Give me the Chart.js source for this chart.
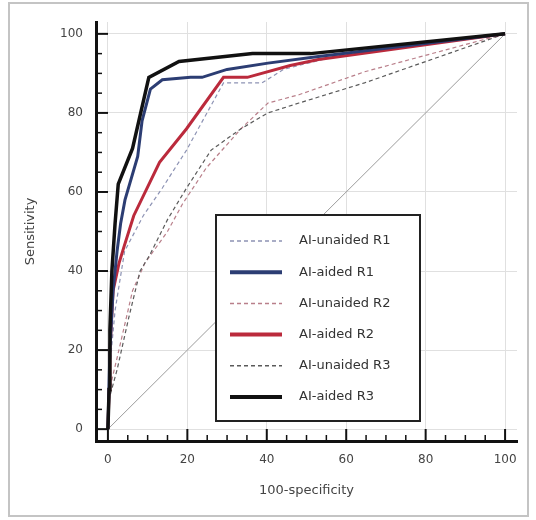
<!DOCTYPE html>
<html>
<head>
<meta charset="utf-8">
<script src="https://cdn.jsdelivr.net/npm/chart.js@4"></script>
<style>
  html, body { margin: 0; padding: 0; background: #fff; }
  canvas { display: block; }
</style>
</head>
<body>
<canvas id="roc" width="536" height="520"></canvas>
<script>
// tick values
const xTicks = [0, 20, 40, 60, 80, 100];
const yTicks = [0, 20, 40, 60, 80, 100];

// ROC curves, x = 100-specificity, y = sensitivity
const unaidedR1X = [0, 0.4, 1.8, 4.2, 8.9, 13.7, 19.8, 29.1, 38.8, 44.2, 57.8, 100];
const unaidedR1Y = [0, 15, 30, 45, 54, 61, 70.6, 87.6, 87.6, 91, 94.5, 100];

const aidedR1X = [0, 0.5, 1.3, 2.3, 3.2, 4.3, 7.5, 8.6, 10.7, 13.7, 20.8, 23.7, 30, 40.3, 53, 100];
const aidedR1Y = [0, 20, 35, 45, 52, 58, 69, 78, 86, 88.4, 89, 89, 91, 92.6, 94.3, 100];

const unaidedR2X = [0, 0.4, 2.3, 6.2, 9.3, 15, 18.8, 24.7, 33.5, 40.3, 48.1, 64.6, 100];
const unaidedR2Y = [0, 10, 18, 35, 42, 50, 57, 66, 76, 82.5, 84.6, 90.4, 100];

const aidedR2X = [0, 0.3, 0.5, 1.3, 2.8, 4, 6.5, 13, 19.8, 29.1, 35.1, 45.9, 53, 100];
const aidedR2Y = [0, 10, 20, 35, 42, 46, 54, 67.5, 76, 89, 89, 92, 93.5, 100];

const unaidedR3X = [0, 0.4, 2.3, 5.2, 8.1, 10.5, 15, 19.8, 26, 33.5, 40.3, 48.1, 64.6, 100];
const unaidedR3Y = [0, 8, 15, 28, 40, 44, 53, 61, 70.6, 76, 80, 82.5, 87.6, 100];

const aidedR3X = [0, 0.3, 0.5, 1, 1.8, 2.6, 6.2, 10.3, 17.9, 36.4, 51, 100];
const aidedR3Y = [0, 10, 25, 40, 52, 62, 71, 89, 93, 95, 95, 100];

const diagX = [0, 100];
const diagY = [0, 100];

function pts(xs, ys) {
    return xs.map((x, i) => ({ x: x, y: ys[i] }));
}

const FONT = 'DejaVu Sans, Verdana, sans-serif';

// outer frame
const framePlugin = {
    id: 'frame',
    beforeDraw(chart) {
        const ctx = chart.ctx;
        ctx.save();
        ctx.fillStyle = '#fff';
        ctx.fillRect(0, 0, chart.width, chart.height);
        ctx.strokeStyle = '#c4c4c4';
        ctx.lineWidth = 2;
        ctx.strokeRect(9, 3, 519, 513);
        ctx.restore();
    }
};

// inward major/minor tick marks
const tickPlugin = {
    id: 'innerTicks',
    afterDraw(chart) {
        const ctx = chart.ctx;
        const xs = chart.scales.x;
        const ys = chart.scales.y;
        const area = chart.chartArea;
        ctx.save();
        ctx.strokeStyle = '#111';
        for (let v = 0; v <= 100; v += 5) {
            const major = v % 20 === 0;
            const len = major ? 12 : 6;
            ctx.lineWidth = major ? 2 : 1.5;
            const px = xs.getPixelForValue(v);
            ctx.beginPath();
            ctx.moveTo(px, area.bottom);
            ctx.lineTo(px, area.bottom - len);
            ctx.stroke();
            const py = ys.getPixelForValue(v);
            ctx.beginPath();
            ctx.moveTo(area.left, py);
            ctx.lineTo(area.left + len, py);
            ctx.stroke();
        }
        ctx.restore();
    }
};

// boxed legend inside the plot
const legendBoxPlugin = {
    id: 'legendBox',
    afterDatasetsDraw(chart) {
        const ctx = chart.ctx;
        const items = chart.data.datasets.filter(d => d.inLegend);
        const left = 216, top = 215, w = 204, h = 206;
        ctx.save();
        ctx.fillStyle = '#fff';
        ctx.fillRect(left, top, w, h);
        ctx.strokeStyle = '#222';
        ctx.lineWidth = 2;
        ctx.strokeRect(left, top, w, h);
        ctx.font = '13px ' + FONT;
        ctx.textBaseline = 'middle';
        ctx.textAlign = 'left';
        items.forEach((d, i) => {
            const y = top + 26 + i * 31.2;
            ctx.beginPath();
            ctx.setLineDash(d.borderDash || []);
            ctx.strokeStyle = d.borderColor;
            ctx.lineWidth = d.borderDash ? 1.5 : 4;
            ctx.moveTo(left + 14, y);
            ctx.lineTo(left + 66, y);
            ctx.stroke();
            ctx.setLineDash([]);
            ctx.fillStyle = '#333';
            ctx.fillText(d.label, left + 83, y);
        });
        ctx.restore();
    }
};

const dashed = [4, 3];

new Chart(document.getElementById('roc').getContext('2d'), {
    type: 'line',
    data: {
        datasets: [
            { label: 'AI-unaided R1', data: pts(unaidedR1X, unaidedR1Y), borderColor: '#8d93b4', borderWidth: 1.2, borderDash: dashed, inLegend: true, order: 5 },
            { label: 'AI-aided R1', data: pts(aidedR1X, aidedR1Y), borderColor: '#2c3d73', borderWidth: 3, inLegend: true, order: 2 },
            { label: 'AI-unaided R2', data: pts(unaidedR2X, unaidedR2Y), borderColor: '#b97f8a', borderWidth: 1.2, borderDash: dashed, inLegend: true, order: 6 },
            { label: 'AI-aided R2', data: pts(aidedR2X, aidedR2Y), borderColor: '#bb2a3c', borderWidth: 3, inLegend: true, order: 3 },
            { label: 'AI-unaided R3', data: pts(unaidedR3X, unaidedR3Y), borderColor: '#5a5a5a', borderWidth: 1.2, borderDash: dashed, inLegend: true, order: 4 },
            { label: 'AI-aided R3', data: pts(aidedR3X, aidedR3Y), borderColor: '#111111', borderWidth: 3.5, inLegend: true, order: 1 },
            { label: 'reference', data: pts(diagX, diagY), borderColor: '#9c9c9c', borderWidth: 1, inLegend: false, order: 7 }
        ]
    },
    options: {
        responsive: false,
        animation: false,
        devicePixelRatio: 1,
        layout: { padding: { left: 0, top: 22, right: 19, bottom: 0 } },
        elements: {
            point: { radius: 0 },
            line: { tension: 0, fill: false }
        },
        plugins: {
            legend: { display: false },
            tooltip: { enabled: false }
        },
        scales: {
            x: {
                type: 'linear',
                min: -3,
                max: 103,
                afterBuildTicks: s => { s.ticks = xTicks.map(v => ({ value: v })); },
                afterFit: s => { s.height = 79; },
                grid: { color: '#e0e0e0', lineWidth: 1, drawTicks: false },
                border: { display: true, color: '#111', width: 3 },
                ticks: { padding: 12, color: '#444', font: { family: FONT, size: 12 }, maxRotation: 0 },
                title: { display: true, text: '100-specificity', color: '#444', font: { family: FONT, size: 13 }, padding: { top: 0, bottom: 22 } }
            },
            y: {
                type: 'linear',
                min: -3,
                max: 103,
                afterBuildTicks: s => { s.ticks = yTicks.map(v => ({ value: v })); },
                afterFit: s => { s.width = 96; },
                grid: { color: '#e0e0e0', lineWidth: 1, drawTicks: false },
                border: { display: true, color: '#111', width: 3 },
                ticks: { padding: 13, color: '#444', font: { family: FONT, size: 12 } },
                title: { display: true, text: 'Sensitivity', color: '#444', font: { family: FONT, size: 13 }, padding: { top: 23, bottom: 0 } }
            }
        }
    },
    plugins: [framePlugin, tickPlugin, legendBoxPlugin]
});
</script>
</body>
</html>
